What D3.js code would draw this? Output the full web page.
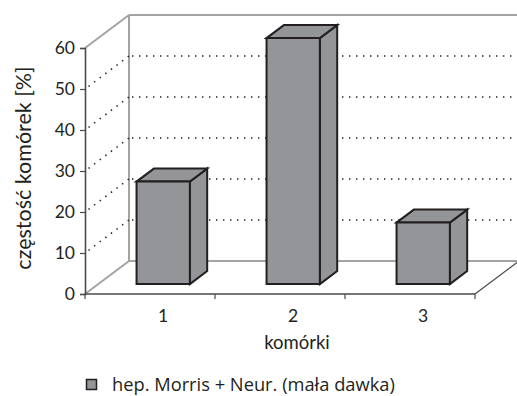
<!DOCTYPE html>
<html>
<head>
<meta charset="utf-8">
<script src="https://cdn.jsdelivr.net/npm/d3@7"></script>
<style>
  html, body { margin: 0; padding: 0; background: #fff; }
  svg { display: block; }
  text { font-family: Lato, "Open Sans", sans-serif; fill: #231f20; }
</style>
</head>
<body>
<svg id="chart" width="517" height="396"></svg>
<script>
// Data
const categories = ["1", "2", "3"];
const values = [25, 60, 15];
const yTicks = [0, 10, 20, 30, 40, 50, 60];
const seriesName = "hep. Morris + Neur. (mała dawka)";
const xTitle = "komórki";
const yTitle = "częstość komórek [%]";

const svg = d3.select("#chart");

// Front plane scales
const x = d3.scaleBand().domain(categories).range([85, 475]).paddingInner(0).paddingOuter(0);
const y = d3.scaleLinear().domain([0, 60]).range([294, 48]);

// Oblique depth projection (z = 0 front, z = 1 back wall)
const DX = 44, DY = -33;
const px = (sx, z) => sx + z * DX;
const py = (sy, z) => sy + z * DY;

const lightGray = "#a3a3a3";
const darkGray = "#4a4a4a";
const ink = "#231f20";
const barFill = "#939598";

const g = svg.append("g");
const x0 = x.range()[0], x1 = x.range()[1];

// Back wall and floor edges
const walls = g.append("g").attr("fill", "none").attr("stroke", lightGray).attr("stroke-width", 2);
walls.append("line").attr("x1", px(x0, 1)).attr("y1", py(y(0), 1)).attr("x2", px(x0, 1)).attr("y2", py(y(60), 1));
walls.append("line").attr("x1", px(x0, 1)).attr("y1", py(y(60), 1)).attr("x2", px(x1, 1)).attr("y2", py(y(60), 1));
walls.append("line").attr("x1", px(x0, 1)).attr("y1", py(y(0), 1)).attr("x2", px(x1, 1)).attr("y2", py(y(0), 1));
walls.append("line").attr("x1", px(x0, 0)).attr("y1", y(60)).attr("x2", px(x0, 1)).attr("y2", py(y(60), 1));
walls.append("line").attr("x1", px(x0, 0)).attr("y1", y(0)).attr("x2", px(x0, 1)).attr("y2", py(y(0), 1));

// Dotted gridlines across side wall and back wall
const gridVals = yTicks.filter(v => v > 0 && v < 60);
const grid = g.append("g").attr("fill", "none").attr("stroke", ink)
  .attr("stroke-width", 1.6).attr("stroke-dasharray", "1.4 5.6").attr("stroke-linecap", "butt");
grid.selectAll("line.side").data(gridVals).join("line").attr("class", "side")
  .attr("x1", px(x0, 0.08)).attr("y1", v => py(y(v), 0.08))
  .attr("x2", px(x0, 1)).attr("y2", v => py(y(v), 1));
grid.selectAll("line.back").data(gridVals).join("line").attr("class", "back")
  .attr("x1", px(x0, 1) + 3).attr("y1", v => py(y(v), 1))
  .attr("x2", px(x1, 1)).attr("y2", v => py(y(v), 1));

// Floor right edge
g.append("line").attr("x1", px(x1, 0)).attr("y1", y(0)).attr("x2", px(x1, 1)).attr("y2", py(y(0), 1))
  .attr("stroke", darkGray).attr("stroke-width", 1.2);

// Bars as oblique boxes
const zFront = 0.3, zBack = 0.694;
const barFrac = 0.41;
const shift = zFront * DX;
const bars = g.append("g").attr("fill", barFill).attr("stroke", ink).attr("stroke-width", 2).attr("stroke-linejoin", "miter");
categories.forEach((c, i) => {
  const v = values[i];
  const cx = x(c) + x.bandwidth() / 2;
  const w = x.bandwidth() * barFrac;
  const lx = cx - w / 2, rx = cx + w / 2;
  const yb = y(0), yt = y(v);
  const fp = (sx, sy) => [px(sx, zFront), py(sy, zFront)];
  const bp = (sx, sy) => [px(sx, zBack), py(sy, zBack)];
  const poly = pts => "M" + pts.map(p => p.join(",")).join("L") + "Z";
  // side face
  bars.append("path").attr("d", poly([fp(rx, yb), bp(rx, yb), bp(rx, yt), fp(rx, yt)]));
  // top face
  bars.append("path").attr("d", poly([fp(lx, yt), fp(rx, yt), bp(rx, yt), bp(lx, yt)]));
  // front face
  bars.append("path").attr("d", poly([fp(lx, yb), fp(rx, yb), fp(rx, yt), fp(lx, yt)]));
});

// Front y axis
const yAxis = g.append("g").attr("transform", `translate(${x0},0)`)
  .call(d3.axisLeft(y).tickValues(yTicks).tickSize(5).tickPadding(5));
yAxis.select(".domain").attr("stroke", darkGray).attr("stroke-width", 1.6);
yAxis.selectAll(".tick line").attr("stroke", darkGray).attr("stroke-width", 1.2);
yAxis.selectAll(".tick text").attr("font-size", 17.5).attr("fill", ink).style("font-family", "Lato, sans-serif");

// Front x axis (floor front edge), tick marks at category boundaries
const xAxisG = g.append("g");
xAxisG.append("line").attr("x1", x0).attr("x2", x1).attr("y1", y(0)).attr("y2", y(0))
  .attr("stroke", darkGray).attr("stroke-width", 1.6);
const bounds = categories.map(c => x(c) + x.bandwidth()).concat([x0]);
xAxisG.selectAll("line.tk").data(bounds).join("line").attr("class", "tk")
  .attr("x1", d => d).attr("x2", d => d).attr("y1", y(0)).attr("y2", y(0) + 5)
  .attr("stroke", darkGray).attr("stroke-width", 1.2);
xAxisG.selectAll("text").data(categories).join("text")
  .attr("x", c => x(c) + x.bandwidth() / 2 + shift)
  .attr("y", 322).attr("text-anchor", "middle").attr("font-size", 17.5).text(c => c);

// Axis titles
svg.append("text").attr("x", 297).attr("y", 349).attr("text-anchor", "middle")
  .attr("font-size", 18.5).text(xTitle);
svg.append("text").attr("transform", "translate(31,168) rotate(-90)")
  .attr("text-anchor", "middle").attr("font-size", 21.5).text(yTitle);

// Legend
const lg = svg.append("g");
lg.append("rect").attr("x", 86.5).attr("y", 379.5).attr("width", 10).attr("height", 10)
  .attr("fill", barFill).attr("stroke", ink).attr("stroke-width", 1.5);
lg.append("text").attr("x", 112).attr("y", 391).attr("font-size", 18.3)
  .style("font-family", "'Open Sans', sans-serif").text(seriesName);
</script>
</body>
</html>
